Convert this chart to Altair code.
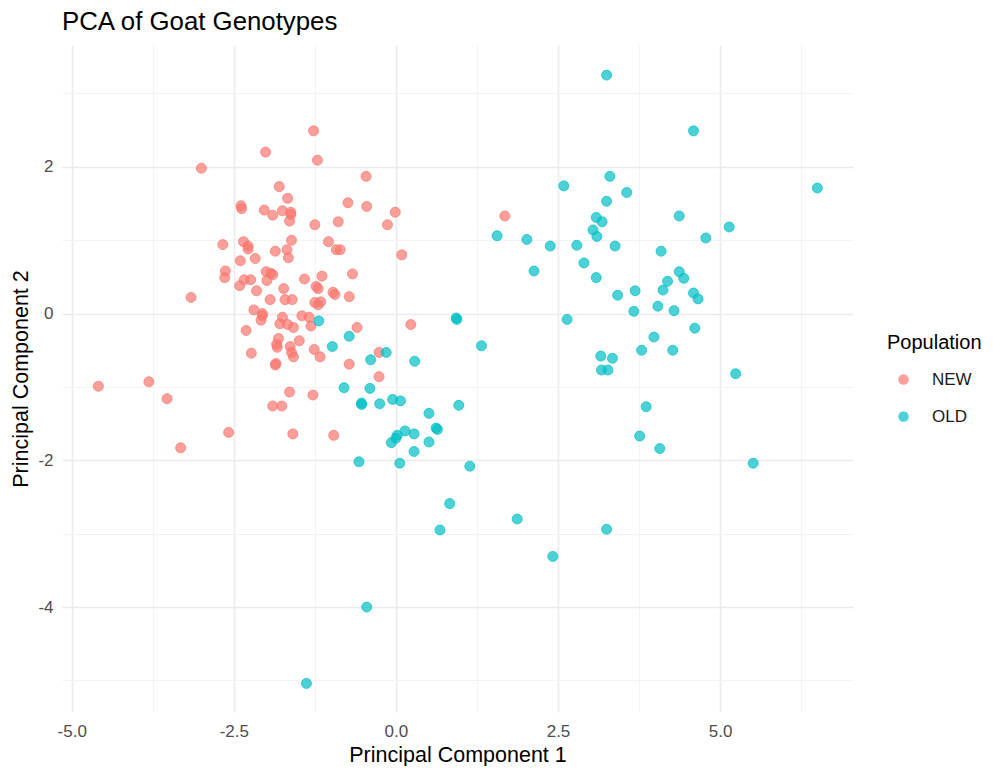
import altair as alt
import pandas as pd

# ---- data ----
new_pc1 = [-1.27, -2.01, -1.21, -3.00, -1.80, -1.67, -2.39, -2.38, -2.03, -1.90,
           -1.75, -1.62, -1.62, -1.64, -1.25, -0.46, -0.74, -0.45, -0.01, -0.89,
           -0.13, 0.09, -2.67, -2.35, -2.28, -2.28, -1.61, -1.68, -1.66, -1.86,
           -2.17, -2.40, -1.04, -0.92, -0.86, -0.67, -2.63, -2.64, -2.00, -1.93,
           -1.90, -1.99, -2.34, -2.24, -2.41, -1.41, -1.14, -1.73, -1.23, -1.20,
           -2.15, -3.16, -1.94, -1.71, -1.60, -1.25, -1.16, -1.20, -0.97, -0.94,
           -0.72, -2.19, -2.06, -2.06, -2.08, -1.75, -1.79, -1.67, -1.58, -1.45,
           -1.34, -1.31, -2.31, -0.60, 0.23, -1.81, -1.84, -1.83, -1.63, -1.61,
           -1.58, -1.49, -1.26, -1.17, -2.23, -1.85, -1.86, -0.72, -0.26, -0.26,
           -1.64, -1.28, -1.90, -1.76, -1.59, -0.96, -4.59, -3.81, -3.53, -3.32,
           -2.58, 1.68]
new_pc2 = [2.49, 2.20, 2.09, 1.98, 1.73, 1.57, 1.47, 1.43, 1.41, 1.34,
           1.40, 1.38, 1.35, 1.26, 1.21, 1.87, 1.51, 1.46, 1.38, 1.25,
           1.21, 0.80, 0.94, 0.98, 0.92, 0.88, 1.00, 0.87, 0.76, 0.85,
           0.75, 0.72, 0.98, 0.87, 0.87, 0.54, 0.58, 0.49, 0.57, 0.55,
           0.53, 0.45, 0.46, 0.46, 0.38, 0.47, 0.51, 0.34, 0.37, 0.34,
           0.31, 0.22, 0.19, 0.19, 0.19, 0.15, 0.16, 0.12, 0.29, 0.26,
           0.23, 0.05, 0.00, -0.03, -0.09, -0.05, -0.14, -0.15, -0.19, -0.03,
           -0.05, -0.17, -0.23, -0.19, -0.15, -0.34, -0.42, -0.46, -0.45, -0.53,
           -0.59, -0.37, -0.49, -0.59, -0.54, -0.68, -0.70, -0.69, -0.53, -0.86,
           -1.07, -1.11, -1.26, -1.26, -1.64, -1.66, -0.99, -0.93, -1.16, -1.83,
           -1.62, 1.33]

old_pc1 = [-1.19, -0.72, -0.98, -0.15, -0.39, 0.29, -0.80, -0.40, -0.53, -0.53,
           -0.25, -0.05, 0.07, 0.93, 0.94, 1.32, 0.51, 0.97, 0.62, 0.64,
           0.14, 0.28, 0.02, 0.00, -0.07, 0.51, 0.28, -0.57, 0.06, 1.14,
           0.83, 0.68, -0.45, -1.38, 3.25, 4.59, 3.30, 2.59, 6.50, 3.56,
           3.25, 3.09, 3.18, 3.04, 3.10, 4.37, 5.14, 4.78, 1.56, 2.02,
           2.38, 2.79, 3.38, 4.09, 2.90, 2.13, 3.09, 4.37, 4.44, 4.19,
           4.12, 3.69, 3.42, 4.59, 4.66, 4.04, 4.29, 3.67, 2.64, 4.61,
           3.98, 3.16, 3.34, 3.17, 3.27, 3.79, 4.27, 5.24, 3.86, 3.76,
           4.07, 5.51, 1.87, 3.25, 2.42]
old_pc2 = [-0.10, -0.31, -0.45, -0.53, -0.63, -0.65, -1.01, -1.02, -1.22, -1.24,
           -1.23, -1.17, -1.19, -0.06, -0.08, -0.44, -1.36, -1.25, -1.56, -1.58,
           -1.60, -1.64, -1.66, -1.70, -1.76, -1.75, -1.88, -2.02, -2.04, -2.08,
           -2.59, -2.95, -4.00, -5.04, 3.25, 2.49, 1.87, 1.74, 1.71, 1.65,
           1.53, 1.31, 1.25, 1.14, 1.05, 1.33, 1.18, 1.03, 1.06, 1.01,
           0.92, 0.93, 0.92, 0.85, 0.69, 0.58, 0.49, 0.57, 0.48, 0.44,
           0.32, 0.31, 0.25, 0.28, 0.20, 0.10, 0.04, 0.03, -0.08, -0.20,
           -0.32, -0.58, -0.61, -0.77, -0.77, -0.50, -0.50, -0.82, -1.27, -1.67,
           -1.84, -2.04, -2.80, -2.94, -3.31]

populations = ["NEW", "OLD"]
pop_colors = ["#F8766D", "#00BFC4"]

x_grid = [-5, -3.75, -2.5, -1.25, 0, 1.25, 2.5, 3.75, 5, 6.25]
y_grid = [-5, -4, -3, -2, -1, 0, 1, 2, 3]

df = pd.concat([
    pd.DataFrame({"PC1": new_pc1, "PC2": new_pc2, "Population": "NEW"}),
    pd.DataFrame({"PC1": old_pc1, "PC2": old_pc2, "Population": "OLD"}),
], ignore_index=True)

FONT = "Liberation Sans"
color_scale = alt.Scale(domain=populations, range=pop_colors)

x_major = "abs((datum.value * 2) % 5) < 0.01"
y_major = "abs(datum.value % 2) < 0.01"
MINUS = "\u2212"

chart = alt.Chart(df).mark_circle(
    size=100, fillOpacity=0.7, strokeOpacity=0.7, strokeWidth=1
).encode(
    x=alt.X("PC1:Q", title="Principal Component 1",
            scale=alt.Scale(domain=[-5.15, 7.05], nice=False, zero=False),
            axis=alt.Axis(values=x_grid,
                          labelExpr=f"{x_major} ? replace(format(datum.value, '.1f'), '{MINUS}', '-') : ''",
                          gridColor={"condition": {"test": x_major, "value": "#EBEBEB"}, "value": "#F2F2F2"},
                          gridWidth={"condition": {"test": x_major, "value": 1.6}, "value": 0.9},
                          labelPadding=11, titlePadding=5)),
    y=alt.Y("PC2:Q", title="Principal Component 2",
            scale=alt.Scale(domain=[-5.43, 3.66], nice=False, zero=False),
            axis=alt.Axis(values=y_grid,
                          labelExpr=f"{y_major} ? replace(format(datum.value, 'd'), '{MINUS}', '-') : ''",
                          gridColor={"condition": {"test": y_major, "value": "#EBEBEB"}, "value": "#F2F2F2"},
                          gridWidth={"condition": {"test": y_major, "value": 1.6}, "value": 0.9},
                          labelPadding=9, titlePadding=5)),
    color=alt.Color("Population:N", scale=color_scale,
                    legend=alt.Legend(title="Population", orient="none",
                                      legendX=825, legendY=288)),
    stroke=alt.Stroke("Population:N", scale=color_scale, legend=None),
).properties(
    width=791, height=667,
    autosize=alt.AutoSizeParams(type="none"),
    padding={"left": 54, "top": 37, "right": 132, "bottom": 54},
    title=alt.TitleParams("PCA of Goat Genotypes", anchor="start", frame="group",
                          font=FONT, fontSize=25.8, fontWeight="normal",
                          color="#000000", baseline="bottom", offset=9, dy=25),
).configure_view(
    stroke=None
).configure_axis(
    domain=False, ticks=False, tickSize=0,
    labelFont=FONT, labelFontSize=17, labelColor="#4D4D4D",
    titleFont=FONT, titleFontSize=21.5, titleColor="#000000", titleFontWeight="normal",
).configure_legend(
    titleFont=FONT, titleFontSize=20, titleFontWeight="normal", titleColor="#000000",
    labelFont=FONT, labelFontSize=17, labelColor="#1A1A1A",
    symbolSize=110, symbolOpacity=0.7, symbolStrokeWidth=0,
    symbolOffset=8, labelOffset=20, titlePadding=18, rowPadding=19, padding=0,
)

chart.save("out.html", embed_options={"renderer": "svg", "actions": False})
